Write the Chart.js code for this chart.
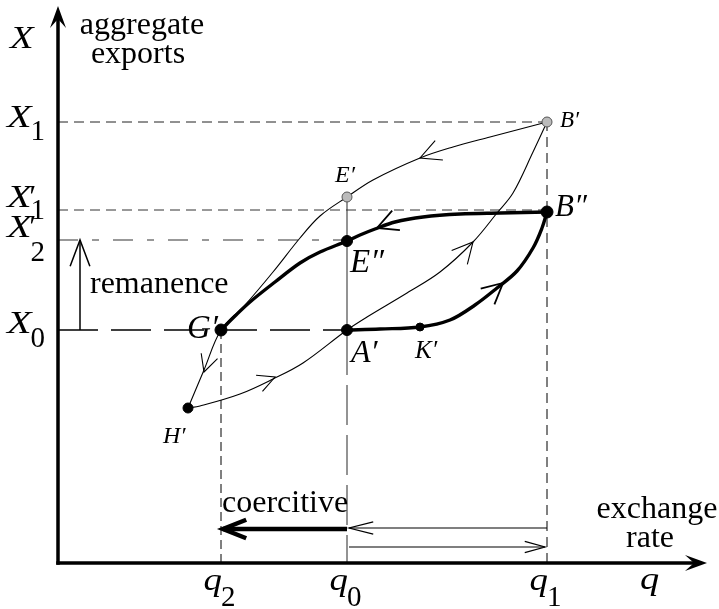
<!DOCTYPE html>
<html><head><meta charset="utf-8">
<script src="https://cdn.jsdelivr.net/npm/chart.js@4"></script>
<style>html,body{margin:0;padding:0;background:#fff;}canvas{display:block;}</style>
</head><body>
<canvas id="c" width="719" height="609"></canvas>
<script>
// ---------------- data (abstract units) ----------------
const qValues = [163, 289, 489];              // q2, q0, q1
const qSubscripts = ['2', '0', '1'];
const xLevelValues = [441, 353, 323, 233];    // X1, X1', X2', X0
const xLevelSubscripts = ['1', '1', '2', '0'];
const xLevelPrimes = [false, true, true, false];

const thinUpperBranch = [[489,441],[432,426],[395,416],[362,405],[315,383],[289,366],[262,347],[242,325],[215,291],[187,258],[163,233],[146,193],[130,155]];
const thinLowerBranch = [[130,155],[142,157],[182,169],[215,184],[245,200],[289,233],[309,246],[349,270],[382,291],[415,321],[439,350],[455,370],[475,411],[489,441]];
const thickLowerBranch = [[289,233],[322,234],[362,236],[392,243],[417,258],[439,275],[459,292],[475,315],[484,335],[489,351]];
const thickUpperBranch = [[489,351],[442,350],[402,349],[365,346],[337,341],[317,334],[302,328],[289,322],[262,311],[242,300],[217,281],[192,261],[177,247],[163,233]];

const pointNames = ['B′','E′','B″','E″','G′','A′','K′','H′'];
const pointX = [489, 289, 489, 289, 163, 289, 362, 130];
const pointY = [441, 366, 351, 322, 233, 233, 236, 155];

// direction arrows along the curves: [fromX, fromY, tipX, tipY]
const curveArrows = [
  [372,409,362,405],
  [150,203,146,191],
  [207,182,217,186],
  [408,313,415,321],
  [437,273,445,280],
  [329,339,319,335]
];

// ---------------- helpers ----------------
const toXY = arr => arr.map(([x, y]) => ({x, y}));
const seg = (x1, y1, x2, y2) => [{x:x1, y:y1}, {x:x2, y:y2}];
const [q2, q0, q1] = qValues;
const [X1, X1p, X2p, X0] = xLevelValues;
const SERIF = '"Liberation Serif", "DejaVu Serif", serif';

function lineDs(data, opts) {
  return Object.assign({data, showLine:true, pointRadius:0, pointHoverRadius:0, fill:false,
    tension:0.35, borderColor:'#000', borderWidth:1, order:2}, opts);
}

function vhead(ctx, tx, ty, ux, uy, len, half) {
  const c = Math.cos(half), s = Math.sin(half);
  const bx = -ux, by = -uy;
  const a1x = bx*c - by*s, a1y = bx*s + by*c;
  const a2x = bx*c + by*s, a2y = -bx*s + by*c;
  ctx.beginPath();
  ctx.moveTo(tx + a1x*len, ty + a1y*len);
  ctx.lineTo(tx, ty);
  ctx.lineTo(tx + a2x*len, ty + a2y*len);
  ctx.stroke();
}
function stealth(ctx, tx, ty, dx, dy) {
  const L = 22, W = 8, N = 13, nx = -dy, ny = dx;
  ctx.beginPath();
  ctx.moveTo(tx, ty);
  ctx.lineTo(tx - dx*L + nx*W, ty - dy*L + ny*W);
  ctx.lineTo(tx - dx*N, ty - dy*N);
  ctx.lineTo(tx - dx*L - nx*W, ty - dy*L - ny*W);
  ctx.closePath();
  ctx.fill();
}
// draws a horizontally widened italic glyph; returns its width
function wideItalic(ctx, t, x, y, size, sx) {
  ctx.save();
  ctx.font = 'italic ' + size + 'px ' + SERIF;
  ctx.textAlign = 'left';
  ctx.translate(x, y); ctx.scale(sx, 1);
  ctx.fillText(t, 0, 0);
  const w = ctx.measureText(t).width * sx;
  ctx.restore();
  return w;
}
function italicSub(ctx, main, prime, sub, x, y, subDy, mainSize, subSize, sx) {
  const w = wideItalic(ctx, main, x, y, mainSize, sx);
  if (prime) wideItalic(ctx, '′', x + w - 4, y, mainSize, 1);
  ctx.font = subSize + 'px ' + SERIF; ctx.textAlign = 'left';
  ctx.fillText(sub, x + w - 1, y + subDy);
}

const overlay = {
  id: 'overlay',
  afterDatasetsDraw(chart) {
    const {ctx, chartArea: a, scales: {x, y}} = chart;
    const px = v => x.getPixelForValue(v), py = v => y.getPixelForValue(v);
    ctx.save();
    ctx.strokeStyle = '#000'; ctx.fillStyle = '#000';

    // axes
    ctx.lineWidth = 3.5;
    ctx.beginPath(); ctx.moveTo(a.left, a.bottom + 1.75); ctx.lineTo(a.left, a.top + 10); ctx.stroke();
    ctx.beginPath(); ctx.moveTo(a.left - 1.75, a.bottom); ctx.lineTo(a.right - 10, a.bottom); ctx.stroke();
    stealth(ctx, a.left, a.top - 2, 0, -1);
    stealth(ctx, a.right + 2, a.bottom, 1, 0);

    // arrows along curves
    curveArrows.forEach(([fx, fy, tx, ty], i) => {
      const X2 = px(tx), Y2 = py(ty), X1_ = px(fx), Y1_ = py(fy);
      const d = Math.hypot(X2 - X1_, Y2 - Y1_);
      ctx.lineWidth = (i === 4 || i === 5) ? 1.8 : 1.1;
      vhead(ctx, X2, Y2, (X2 - X1_)/d, (Y2 - Y1_)/d, (i === 1 || i === 2) ? 19 : 23, 0.47);
    });

    // remanence arrow
    const rx = px(22);
    ctx.lineWidth = 1.5;
    ctx.beginPath(); ctx.moveTo(rx, py(X0)); ctx.lineTo(rx, py(X2p)); ctx.stroke();
    vhead(ctx, rx, py(X2p), 0, -1, 28, 0.36);

    // coercitive thick arrow
    const cy = py(34);
    ctx.lineWidth = 4.5;
    ctx.beginPath(); ctx.moveTo(px(q0), cy); ctx.lineTo(px(q2) + 2, cy); ctx.stroke();
    vhead(ctx, px(q2) + 2, cy, -1, 0, 25, 0.38);
    // thin arrows q1 -> q0 and q0 -> q1
    ctx.lineWidth = 1.2;
    const ty1 = py(35), ty2 = py(16);
    ctx.beginPath(); ctx.moveTo(px(q1), ty1); ctx.lineTo(px(q0) + 2, ty1); ctx.stroke();
    vhead(ctx, px(q0) + 2, ty1, -1, 0, 25, 0.25);
    ctx.beginPath(); ctx.moveTo(px(q0) + 2, ty2); ctx.lineTo(px(q1) - 2, ty2); ctx.stroke();
    vhead(ctx, px(q1) - 2, ty2, 1, 0, 21, 0.27);

    // ---- texts ----
    ctx.textBaseline = 'alphabetic';
    // y-axis title
    wideItalic(ctx, 'X', a.left - 48, a.top + 40, 31, 1.25);
    ctx.font = '32px ' + SERIF; ctx.textAlign = 'center';
    ctx.fillText('aggregate', a.left + 84, a.top + 26);
    ctx.fillText('exports', a.left + 80, a.top + 55);
    // x-axis title
    ctx.fillText('exchange', a.right - 48, a.bottom - 45);
    ctx.fillText('rate', a.right - 55, a.bottom - 16);
    wideItalic(ctx, 'q', a.right - 65, a.bottom + 26, 32, 1.2);

    // X level labels
    const mainDy = [5, -3, -3, 3], subDy = [13, 12, 24, 14];
    xLevelValues.forEach((v, i) => {
      italicSub(ctx, 'X', xLevelPrimes[i], xLevelSubscripts[i], 7, py(v) + mainDy[i], subDy[i], 31, 29, 1.3);
    });
    // q tick labels
    qValues.forEach((v, i) => {
      ctx.font = 'italic 32px ' + SERIF;
      const wq = ctx.measureText('q').width * 1.15;
      ctx.font = '29px ' + SERIF;
      const ws = ctx.measureText(qSubscripts[i]).width;
      const left = px(v) - (wq + ws) / 2 - 1;
      italicSub(ctx, 'q', false, qSubscripts[i], left, a.bottom + 27, 16, 32, 29, 1.15);
    });

    // annotations
    ctx.font = '32px ' + SERIF; ctx.textAlign = 'left';
    ctx.fillText('remanence', rx + 10, py(X0) - 37);
    ctx.fillText('coercitive', px(q2) + 1, cy - 17);

    // point labels: [dx, dy, size, align]
    const lab = [[13,5,23,'left'],[-12,-15,24,'left'],[8,4,31,'left'],[3,31,33,'left'],
                 [-3,8,33,'right'],[4,32,32,'left'],[-5,31,25,'left'],[-25,35,24,'left']];
    pointNames.forEach((n, i) => {
      const [dx, dy, sz, al] = lab[i];
      ctx.font = 'italic ' + sz + 'px ' + SERIF; ctx.textAlign = al;
      ctx.fillText(n, px(pointX[i]) + dx, py(pointY[i]) + dy);
    });
    ctx.restore();
  }
};

const datasets = [
  // reference lines
  lineDs(seg(0, X1, q1, X1), {borderDash:[10,6], borderColor:'#222', tension:0, order:3}),
  lineDs(seg(0, X1p, q1, X1p), {borderDash:[10,6], borderColor:'#333', tension:0, order:3}),
  lineDs(seg(0, X2p, q0, X2p), {borderDash:[20,14,7,14], borderColor:'#777', borderWidth:1.6, tension:0, order:3}),
  lineDs(seg(0, X0, q0, X0), {borderDash:[40,13], borderColor:'#000', borderWidth:1.3, tension:0, order:3}),
  lineDs(seg(q2, 0, q2, X0), {borderDash:[9,5], borderColor:'#000', tension:0, order:3}),
  lineDs(seg(q1, 0, q1, X1), {borderDash:[10,6], borderColor:'#000', tension:0, order:3}),
  lineDs(seg(q0, 366, q0, 278), {borderColor:'#666', borderWidth:1.4, tension:0, order:3}),
  lineDs(seg(q0, 278, q0, 0), {borderDash:[40,10], borderColor:'#666', borderWidth:1.4, tension:0, order:3}),
  // hysteresis curves
  lineDs(toXY(thinUpperBranch), {borderWidth:1.1}),
  lineDs(toXY(thinLowerBranch), {borderWidth:1.1}),
  lineDs(toXY(thickLowerBranch), {borderWidth:3.4, order:1}),
  lineDs(toXY(thickUpperBranch), {borderWidth:3.4, order:1}),
  // marked points
  {
    data: pointX.map((x, i) => ({x, y: pointY[i]})),
    showLine:false, order:0,
    pointRadius:[5, 5, 6, 5.5, 6, 5.5, 4, 5],
    pointBackgroundColor:['#bbb','#bbb','#000','#000','#000','#000','#000','#000'],
    pointBorderColor:['#555','#555','#000','#000','#000','#000','#000','#000'],
    pointBorderWidth:1
  }
];

new Chart(document.getElementById('c'), {
  type: 'scatter',
  data: {datasets},
  options: {
    responsive:false, animation:false, devicePixelRatio:1,
    layout:{padding:{left:58, right:14, top:8, bottom:46}},
    scales:{
      x:{type:'linear', min:0, max:647, display:false},
      y:{type:'linear', min:0, max:555, display:false}
    },
    plugins:{legend:{display:false}, tooltip:{enabled:false}},
    events:[]
  },
  plugins:[overlay]
});
</script>
</body></html>
